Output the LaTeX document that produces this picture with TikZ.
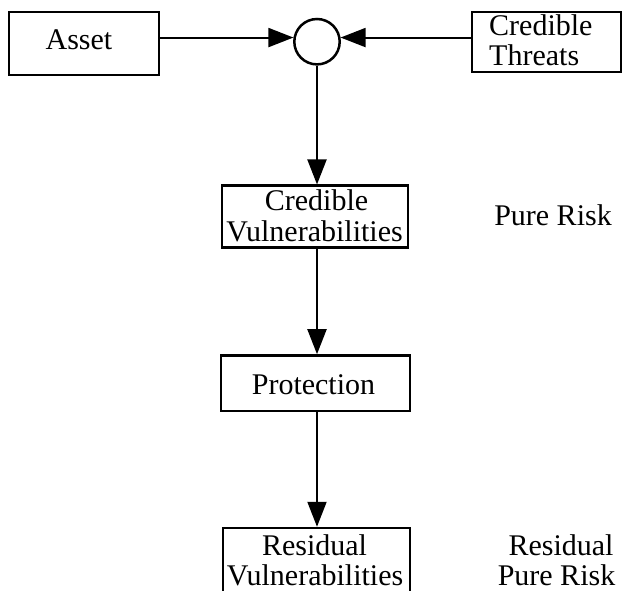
\documentclass[tikz,border=0pt]{standalone}
\usepackage{fontspec}
\setmainfont{Liberation Serif}
\usetikzlibrary{arrows.meta}
\begin{document}
\begin{tikzpicture}[x=1pt,y=-1pt,
  box/.style={draw,line width=2.5pt,rectangle,inner sep=0pt},
  txt/.style={anchor=base,inner sep=0pt,font=\fontsize{30}{30}\selectfont},
  conn/.style={line width=2pt,-{Triangle[length=25pt,width=19pt]}}]
\useasboundingbox (0,0) rectangle (623,590);
\clip (0,0) rectangle (623,590);
% boxes
\node[box,minimum width=150pt,minimum height=63pt] (asset) at (84,43.5) {};
\node[draw,circle,line width=2.5pt,minimum size=45.4pt,inner sep=0pt] (circ) at (317,41.7) {};
\node[box,minimum width=149pt,minimum height=60pt] (threats) at (546.5,42) {};
\node[box,minimum width=186pt,minimum height=61.8pt] (cv) at (315,216.6) {};
\node[box,minimum width=189pt,minimum height=55.5pt] (prot) at (315.5,383.2) {};
\node[box,minimum width=187pt,minimum height=92pt] (res) at (316.5,574) {};
% texts
\node[txt] (tasset) at (79,49) {Asset};
\node[txt,anchor=base west] (tthr1) at (489,35) {Credible};
\node[txt,anchor=base west] (tthr2) at (489,65) {Threats};
\node[txt] (tcv1) at (316.5,210) {Credible};
\node[txt] (tcv2) at (314.5,241) {Vulnerabilities};
\node[txt] (tpure) at (553,225) {Pure Risk};
\node[txt] (tprot) at (313.5,394) {Protection};
\node[txt] (tres1) at (314.5,555) {Residual};
\node[txt] (tres2) at (315,585) {Vulnerabilities};
\node[txt] (trp1) at (561,555) {Residual};
\node[txt] (trp2) at (556.5,585) {Pure Risk};
% connectors
\draw[conn] (asset.east |- circ.170) -- (circ.170);
\draw[conn] (threats.west |- circ.10) -- (circ.10);
\draw[conn] (circ.south) -- (circ.south |- cv.north);
\draw[conn] (circ.south |- cv.south) -- (circ.south |- prot.north);
\draw[conn] (circ.south |- prot.south) -- (circ.south |- res.north);
\end{tikzpicture}
\end{document}
